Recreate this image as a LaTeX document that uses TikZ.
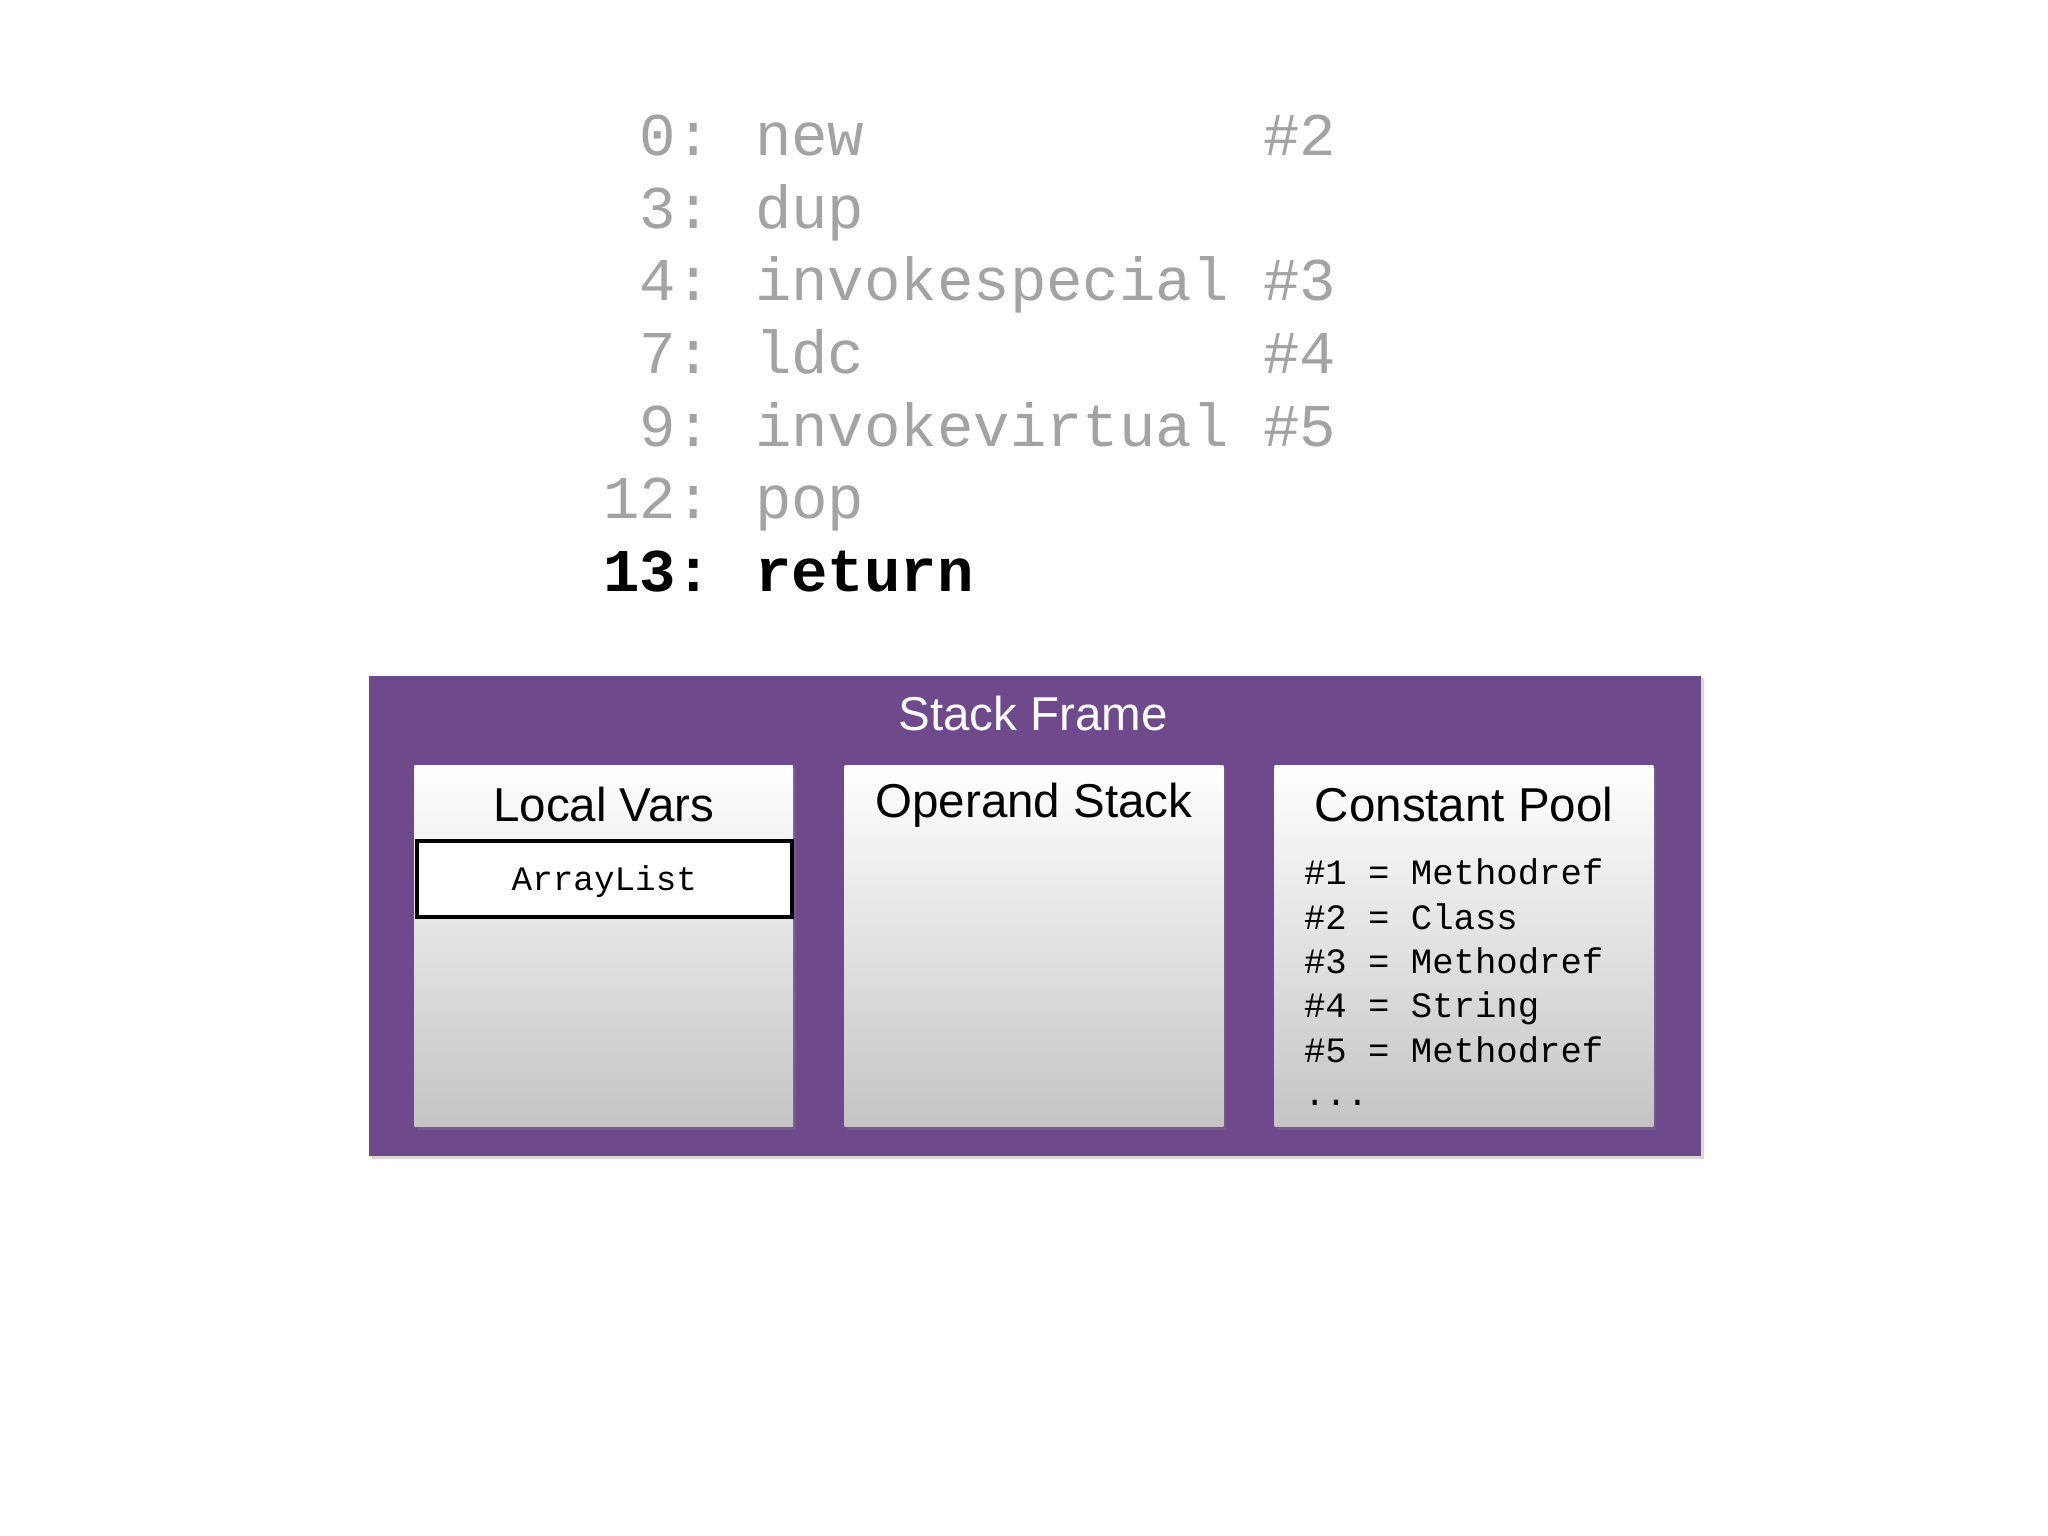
\documentclass[tikz,border=0pt]{standalone}
\usepackage{fontspec}
\setmainfont{Liberation Sans}
\newfontfamily\codefont{Liberation Mono}
\usetikzlibrary{shadows}
\definecolor{codegray}{HTML}{A3A3A3}
\definecolor{framepurple}{HTML}{6E4A8D}
\definecolor{boxbot}{HTML}{C4C4C4}
\begin{document}
\begin{tikzpicture}[x=1pt,y=-1pt,
  num/.style={anchor=base east,inner sep=0,font=\codefont\fontsize{46}{46}\selectfont,text=codegray},
  ins/.style={anchor=base west,inner sep=0,font=\codefont\fontsize{46}{46}\selectfont,text=codegray},
  panel/.style={draw=none,top color=white,bottom color=boxbot,drop shadow={opacity=0.3,shadow xshift=2pt,shadow yshift=-2pt}},
  ptitle/.style={font=\fontsize{36}{36}\selectfont,text=black,inner sep=0},
  pool/.style={anchor=base west,inner sep=0,font=\codefont\fontsize{27}{27}\selectfont}]
\useasboundingbox (0,0) rectangle (1552,1164);
\fill[white] (0,0) rectangle (1552,1164);
% code
\foreach \n/\i/\r/\y [count=\k] in {0:/new/\#2/118, 3:/dup//173, 4:/invokespecial/\#3/228, 7:/ldc/\#4/283, 9:/invokevirtual/\#5/338, 12:/pop//393}{
  \node[num] (n\k) at (540,\y) {\n};
  \node[ins] (i\k) at (572,\y) {\i};
  \node[ins] (r\k) at (957,\y) {\r};
}
\node[num,text=black,font=\codefont\bfseries\fontsize{46}{46}\selectfont] (n7) at (540,448) {13:};
\node[ins,text=black,font=\codefont\bfseries\fontsize{46}{46}\selectfont] (i7) at (572,448) {return};
% frame
\fill[framepurple,drop shadow={opacity=0.3,shadow xshift=2pt,shadow yshift=-2pt}] (280,512) rectangle (1289,876);
\node[ptitle,text=white] (sf) at (783,541) {Stack Frame};
\shade[panel] (314,580) rectangle (601,854);
\shade[panel] (640,580) rectangle (927,854);
\shade[panel] (966,580) rectangle (1253,854);
\node[ptitle] (lv) at (457.5,610) {Local Vars};
\node[ptitle] (os) at (783.5,610) {Operand Stack};
\node[ptitle] (cp) at (1109.5,610) {Constant Pool};
\draw[fill=white,line width=3pt] (316,637) rectangle (600,695);
\node[inner sep=0,font=\codefont\fontsize{26}{26}\selectfont] (al) at (458,668) {ArrayList};
\foreach \t/\y [count=\k] in {{\#1 = Methodref}/670,{\#2 = Class}/704,{\#3 = Methodref}/738,{\#4 = String}/771,{\#5 = Methodref}/805,{...}/838}{
  \node[pool] (p\k) at (988,\y) {\t};
}
\end{tikzpicture}
\end{document}
